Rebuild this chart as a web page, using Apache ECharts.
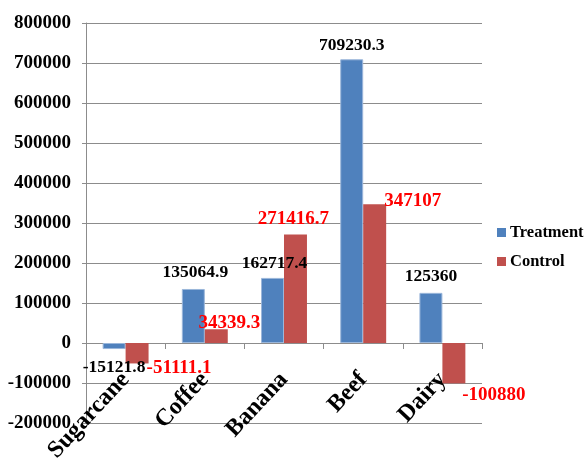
<!DOCTYPE html>
<html>
<head>
<meta charset="utf-8">
<script src="https://cdn.jsdelivr.net/npm/echarts@6/dist/echarts.min.js"></script>
<style>
  html, body { margin: 0; padding: 0; background: #fff; }
  #chart { width: 586px; height: 466px; }
</style>
</head>
<body>
<div id="chart"></div>
<script>
// Categories and the two series
const categories = ['Sugarcane', 'Coffee', 'Banana', 'Beef', 'Dairy'];
const treatment = [-15121.8, 135064.9, 162717.4, 709230.3, 125360];
const control = [-51111.1, 34339.3, 271416.7, 347107, -100880];

// Value axis range
const yMin = -200000;
const yMax = 800000;
const yStep = 100000;

// Label nudges (pixels) so labels sit beside their bars
const treatmentLabelShift = [[0, 4], [2, -2], [2, 0], [0, 0], [0, -2]];
const controlLabelShift = [[42, -10], [13, 8], [-2, -1], [38, 11], [40, -3]];

const FONT = '"Liberation Serif", "Times New Roman", serif';

function withLabels(values, shifts) {
  return values.map((v, i) => ({
    value: v,
    label: { offset: shifts[i] }
  }));
}

const chart = echarts.init(document.getElementById('chart'), null, { renderer: 'canvas' });

chart.setOption({
  animation: false,
  backgroundColor: '#ffffff',
  grid: { left: 86, right: 104, top: 23, bottom: 43, containLabel: false, outerBoundsMode: 'none' },
  legend: {
    orient: 'vertical',
    left: 497,
    top: 224,
    padding: 0,
    itemWidth: 9,
    itemHeight: 9,
    itemGap: 12,
    icon: 'rect',
    itemStyle: { borderWidth: 0 },
    textStyle: { fontFamily: FONT, fontWeight: 'bold', fontSize: 16.5, color: '#000', padding: [0, 0, 0, -1] },
    data: ['Treatment', 'Control']
  },
  xAxis: {
    type: 'category',
    data: categories,
    axisLine: { lineStyle: { color: '#8c8c8c', width: 1 } },
    axisTick: { show: true, length: 6, lineStyle: { color: '#8c8c8c' } },
    axisLabel: {
      rotate: 47,
      margin: -47,
      interval: 0,
      fontFamily: FONT,
      fontWeight: 'bold',
      fontSize: 24,
      color: '#000'
    }
  },
  yAxis: {
    type: 'value',
    min: yMin,
    max: yMax,
    interval: yStep,
    axisLine: { show: true, lineStyle: { color: '#8c8c8c', width: 1 } },
    axisTick: { show: true, length: 4, lineStyle: { color: '#8c8c8c' } },
    splitLine: { show: true, lineStyle: { color: '#8c8c8c', width: 1 } },
    axisLabel: {
      margin: 15,
      formatter: (v) => String(v),
      fontFamily: FONT,
      fontWeight: 'bold',
      fontSize: 19,
      color: '#000'
    }
  },
  series: [
    {
      name: 'Treatment',
      type: 'bar',
      data: withLabels(treatment, treatmentLabelShift),
      barGap: '0%',
      barCategoryGap: '42%',
      itemStyle: { color: '#4f81bd', borderColor: '#9ab6da', borderWidth: 1 },
      label: {
        show: true,
        position: 'outside',
        distance: 5,
        fontFamily: FONT,
        fontWeight: 'bold',
        fontSize: 17.5,
        color: '#000'
      }
    },
    {
      name: 'Control',
      type: 'bar',
      data: withLabels(control, controlLabelShift),
      barGap: '0%',
      barCategoryGap: '42%',
      itemStyle: { color: '#c0504d' },
      label: {
        show: true,
        position: 'outside',
        distance: 5,
        fontFamily: FONT,
        fontWeight: 'bold',
        fontSize: 19,
        color: '#ff0000'
      }
    }
  ]
});
</script>
</body>
</html>
